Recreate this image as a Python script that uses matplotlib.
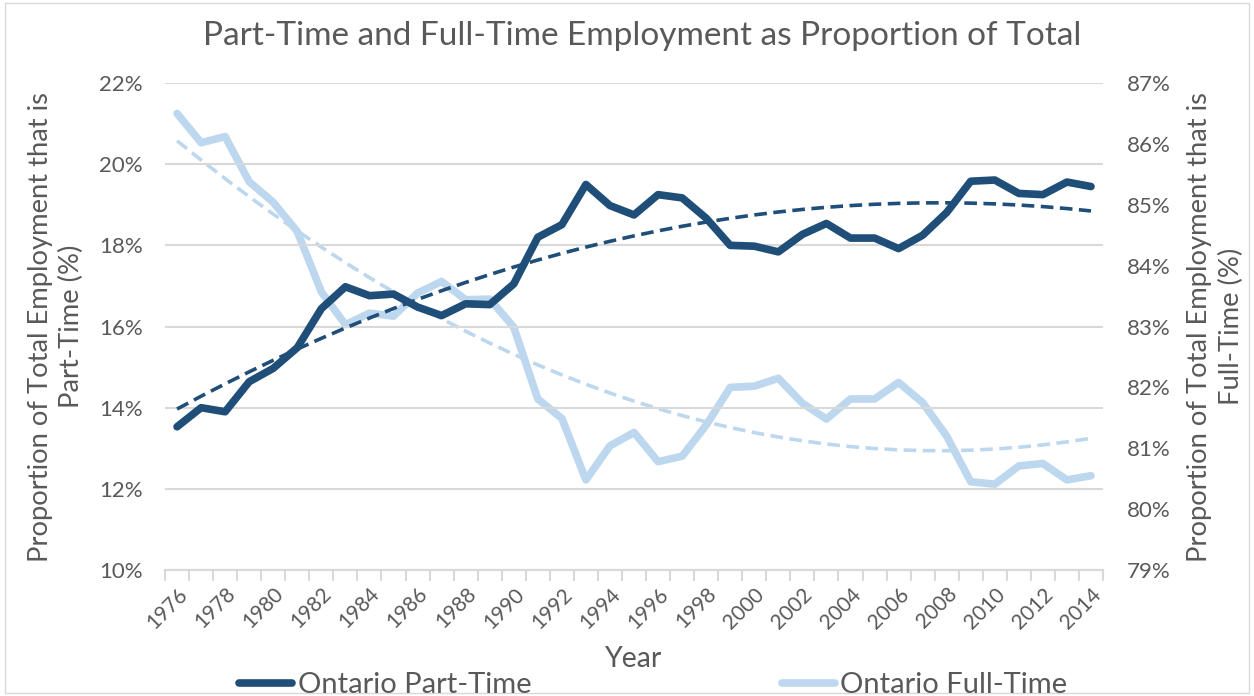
import numpy as np
import matplotlib
matplotlib.use("Agg")
from matplotlib import pyplot as plt
from matplotlib.patches import Rectangle

plt.rcParams['font.family'] = ['Lato', 'DejaVu Sans']

years = list(range(1976, 2015))
part_time = [13.53, 14.00, 13.90, 14.64, 14.97, 15.48, 16.44, 16.98, 16.76, 16.80,
             16.48, 16.27, 16.56, 16.54, 17.05, 18.20, 18.51, 19.50, 18.98, 18.75,
             19.25, 19.17, 18.67, 18.00, 17.98, 17.84, 18.27, 18.54, 18.18, 18.18,
             17.92, 18.25, 18.81, 19.58, 19.61, 19.28, 19.25, 19.56, 19.45]
full_time = [86.50, 86.02, 86.12, 85.38, 85.04, 84.56, 83.57, 83.03, 83.22, 83.17,
             83.55, 83.74, 83.44, 83.45, 82.99, 81.81, 81.49, 80.48, 81.04, 81.26,
             80.78, 80.87, 81.38, 82.00, 82.02, 82.15, 81.74, 81.48, 81.81, 81.81,
             82.08, 81.75, 81.20, 80.45, 80.41, 80.71, 80.75, 80.48, 80.55]

dark = '#1F4E79'
light = '#BDD7EE'
grey_txt = '#595959'
grid_c = '#D9D9D9'

x = np.arange(len(years))

# 2nd order trend lines, like excel
pt_fit = np.polyval(np.polyfit(x, part_time, 2), x)
ft_fit = np.polyval(np.polyfit(x, full_time, 2), x)

fig = plt.figure(figsize=(12.54, 6.96), dpi=100)
fig.patches.append(Rectangle((0.004, 0.004), 0.992, 0.992, transform=fig.transFigure,
                             fill=False, edgecolor=grid_c, linewidth=1))
ax = fig.add_axes([0.1316, 0.181, 0.748, 0.6997])
ax2 = ax.twinx()

ax.plot(x, part_time, color=dark, lw=5.5, solid_capstyle='round', zorder=3)
ax.plot(x, pt_fit, color=dark, lw=2.6, ls=(0, (3.5, 1.8)), zorder=3)
ax2.plot(x, full_time, color=light, lw=5.5, solid_capstyle='round', zorder=2)
ax2.plot(x, ft_fit, color=light, lw=2.6, ls=(0, (3.5, 1.8)), zorder=2)
ax.set_zorder(ax2.get_zorder() + 1)
ax.patch.set_visible(False)

ax.set_xlim(-0.5, len(years) - 0.5)
ax.set_ylim(10, 22)
ax2.set_ylim(79, 87)
ax.set_yticks(np.arange(10, 23, 2))
ax.set_yticklabels(['%d%%' % v for v in range(10, 23, 2)])
ax2.set_yticks(np.arange(79, 88, 1))
ax2.set_yticklabels(['%d%%' % v for v in range(79, 88)])

ax.set_xticks(x[::2])
ax.set_xticklabels([str(y) for y in years[::2]], rotation=45, ha='right',
                   rotation_mode='anchor')
ax.set_xticks(np.arange(-0.5, len(years)), minor=True)
ax.tick_params(axis='x', which='major', length=0, pad=10, labelsize=15, labelcolor=grey_txt)
ax.tick_params(axis='x', which='minor', length=8, color=grid_c, width=1.5)
ax.tick_params(axis='y', length=0, labelsize=16, labelcolor=grey_txt, pad=16)
ax2.tick_params(axis='y', length=0, labelsize=16, labelcolor=grey_txt, pad=17)

ax.grid(axis='y', color=grid_c, lw=1.5)
ax.set_axisbelow(True)
for a in (ax, ax2):
    for s in ('top', 'left', 'right'):
        a.spines[s].set_visible(False)
    a.spines['bottom'].set_color(grid_c)
    a.spines['bottom'].set_linewidth(1.5)

ax.set_ylabel('Proportion of Total Employment that is\nPart-Time (%)', fontsize=19.7,
              color=grey_txt, labelpad=11, linespacing=1.3)
ax2.set_ylabel('Proportion of Total Employment that is\nFull-Time (%)', fontsize=19.7,
               color=grey_txt, labelpad=12, rotation=90, linespacing=1.35)
ax.set_xlabel('Year', fontsize=20.5, color=grey_txt, labelpad=10)
fig.suptitle('Part-Time and Full-Time Employment as Proportion of Total', fontsize=24,
             color=grey_txt, x=0.512, y=0.97)

h1, = ax.plot([], [], color=dark, lw=5.5, solid_capstyle='round')
h2, = ax.plot([], [], color=light, lw=5.5, solid_capstyle='round')
fig.legend([h1, h2], ['Ontario Part-Time', 'Ontario Full-Time'], loc='lower center',
           bbox_to_anchor=(0.521, -0.041), ncol=2, frameon=False, fontsize=21,
           labelcolor=grey_txt, columnspacing=8.6, handlelength=1.8, handletextpad=0.2)

fig.savefig('out.png', dpi=100)
